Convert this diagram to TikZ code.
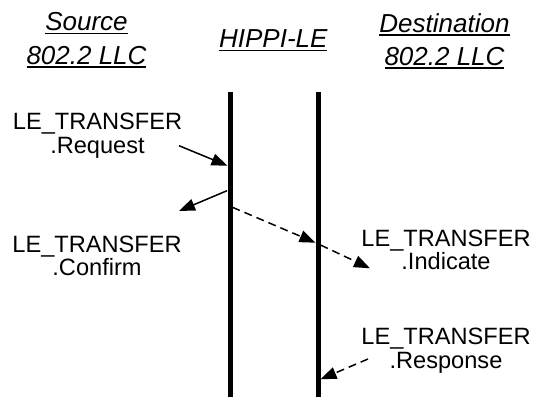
\documentclass[tikz,border=0pt]{standalone}
\usepackage{fontspec}
\setmainfont{Liberation Sans}
\usetikzlibrary{arrows.meta}
\newcommand{\hdrul}[1]{\setbox0\hbox{#1}\rlap{\rule[-3.4pt]{\wd0}{1.6pt}}\box0}
\begin{document}
\begin{tikzpicture}[x=1pt,y=-1pt,
  lbl/.style={align=center,inner sep=0pt,anchor=north,font=\fontsize{23.6}{23.5}\selectfont},
  hdr/.style={align=center,inner sep=0pt,anchor=north,font=\fontsize{26}{33.5}\selectfont\itshape},
  life/.style={line width=5pt},
  msg/.style={line width=1.5pt,-{Triangle[length=16pt,width=12pt]}},
  dmsg/.style={msg,dash pattern=on 8pt off 5pt}]
\useasboundingbox (0,0) rectangle (535,398);
% headers
\node[hdr] (src) at (86.5,12.5) {\hdrul{Source}\\\hdrul{802.2 LLC}};
\node[hdr] (hippi) at (273.3,29.7) {\hdrul{HIPPI-LE}};
\node[hdr] (dst) at (444.5,13.1) {\hdrul{Destination}\\\hdrul{802.2 LLC}};
% lifelines
\coordinate (Ltop) at (230,92);
\coordinate (Lbot) at (230,397);
\coordinate (Rtop) at (318,92);
\coordinate (Rbot) at (318,397);
\draw[life] (Ltop) -- (Lbot);
\draw[life] (Rtop) -- (Rbot);
% labels
\node[lbl] (req) at (97.5,113.1) {LE\_TRANSFER\\.Request};
\node[lbl] (conf) at (97,235.8) {LE\_TRANSFER\\.Confirm};
\node[lbl] (ind) at (446,229.8) {LE\_TRANSFER\\.Indicate};
\node[lbl] (resp) at (446,328.1) {LE\_TRANSFER\\.Response};
% message points
\coordinate (reqS) at (179,145.7);
\coordinate (reqE) at (227.5,165.7);
\coordinate (confS) at (227,190.7);
\coordinate (confE) at (179,211);
\coordinate (indS1) at (232.5,207.3);
\coordinate (indE1) at (315.5,242.7);
\coordinate (indS2) at (320.5,245);
\coordinate (indE2) at (370,268.3);
\coordinate (respS) at (368,359);
\coordinate (respE) at (320.5,379.3);
% messages
\draw[msg] (reqS) -- (reqE);
\draw[msg] (confS) -- (confE);
\draw[dmsg] (indS1) -- (indE1);
\draw[dmsg] (indS2) -- (indE2);
\draw[dmsg] (respS) -- (respE);
\end{tikzpicture}
\end{document}
